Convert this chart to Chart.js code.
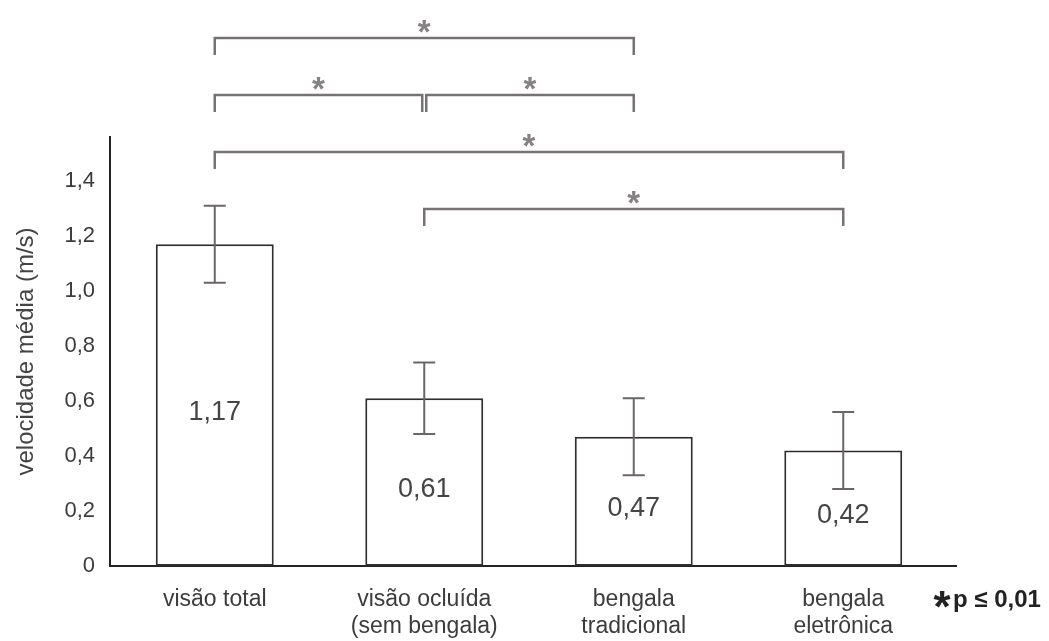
<!DOCTYPE html>
<html><head><meta charset="utf-8">
<script src="https://cdn.jsdelivr.net/npm/chart.js@4"></script>
<style>html,body{margin:0;padding:0;background:#fff}</style>
</head><body>
<canvas id="c" width="1049" height="641"></canvas>
<script>
const categories = [['visão total'], ['visão ocluída', '(sem bengala)'], ['bengala', 'tradicional'], ['bengala', 'eletrônica']];
const meanSpeed = [1.17, 0.61, 0.47, 0.42];
const sdSpeed = [0.14, 0.13, 0.14, 0.14];
const valueLabels = ['1,17', '0,61', '0,47', '0,42'];
const yTickValues = [0, 0.2, 0.4, 0.6, 0.8, 1.0, 1.2, 1.4];
const yTickLabels = ['0', '0,2', '0,4', '0,6', '0,8', '1,0', '1,2', '1,4'];
const comparisons = [[0, 2], [0, 1], [1, 2], [0, 3], [1, 3]];
const comparisonRows = [0, 1, 1, 2, 3];
const yTitle = 'velocidade média (m/s)';
const significanceNote = 'p ≤ 0,01';

const FONT = "'Liberation Sans', Arial, sans-serif";

const annotate = {
  id: 'annotate',
  afterDatasetsDraw(chart) {
    const ctx = chart.ctx;
    const ys = chart.scales.y;
    const meta = chart.getDatasetMeta(0);
    const ca = chart.chartArea;
    ctx.save();
    // extend x axis line slightly past the plot area
    ctx.strokeStyle = '#222';
    ctx.lineWidth = 2;
    ctx.beginPath();
    ctx.moveTo(ca.right - 1, ca.bottom); ctx.lineTo(ca.right + 9, ca.bottom);
    ctx.stroke();
    // error bars
    ctx.strokeStyle = '#6b6666';
    ctx.lineWidth = 2;
    meta.data.forEach((bar, i) => {
      const x = bar.x;
      const yt = ys.getPixelForValue(meanSpeed[i] + sdSpeed[i]);
      const yb = ys.getPixelForValue(meanSpeed[i] - sdSpeed[i]);
      ctx.beginPath();
      ctx.moveTo(x, yt); ctx.lineTo(x, yb);
      ctx.moveTo(x - 11, yt); ctx.lineTo(x + 11, yt);
      ctx.moveTo(x - 11, yb); ctx.lineTo(x + 11, yb);
      ctx.stroke();
    });
    // value labels inside bars
    ctx.fillStyle = '#454545';
    ctx.font = '27px ' + FONT;
    ctx.textAlign = 'center';
    ctx.textBaseline = 'middle';
    meta.data.forEach((bar, i) => {
      ctx.fillText(valueLabels[i], bar.x, (bar.y + bar.base) / 2 + 7);
    });
    // significance brackets
    const topY = ca.top - 99, rowGap = 57, drop = 17;
    ctx.strokeStyle = '#777272';
    ctx.lineWidth = 2.5;
    comparisons.forEach((pair, k) => {
      const r = comparisonRows[k];
      const y = topY + r * rowGap;
      let x1 = meta.data[pair[0]].x, x2 = meta.data[pair[1]].x;
      comparisons.forEach((p2, k2) => {
        if (k2 !== k && comparisonRows[k2] === r) {
          if (p2[1] === pair[0]) x1 += 2;
          if (p2[0] === pair[1]) x2 -= 2;
        }
      });
      ctx.beginPath();
      ctx.moveTo(x1, y + drop); ctx.lineTo(x1, y); ctx.lineTo(x2, y); ctx.lineTo(x2, y + drop);
      ctx.stroke();
      ctx.fillStyle = '#878282';
      ctx.font = 'bold 33px ' + FONT;
      ctx.textAlign = 'center';
      ctx.textBaseline = 'alphabetic';
      ctx.fillText('*', (x1 + x2) / 2, y + 5);
    });
    // significance note
    const noteY = ca.bottom + 34;
    ctx.fillStyle = '#222';
    ctx.textAlign = 'center';
    ctx.textBaseline = 'alphabetic';
    ctx.font = 'bold 44px ' + FONT;
    ctx.fillText('*', chart.width - 107, noteY + 22);
    ctx.font = 'bold 24px ' + FONT;
    ctx.textAlign = 'left';
    ctx.textBaseline = 'middle';
    ctx.fillText(significanceNote, chart.width - 96, noteY);
    ctx.restore();
  }
};

new Chart(document.getElementById('c'), {
  type: 'bar',
  data: {
    labels: categories,
    datasets: [{
      data: meanSpeed,
      backgroundColor: '#ffffff',
      borderColor: '#2e2e2e',
      borderWidth: 2,
      borderSkipped: false,
      barPercentage: 0.563,
      categoryPercentage: 1
    }]
  },
  options: {
    responsive: false,
    animation: false,
    devicePixelRatio: 1,
    layout: { padding: { top: 137, right: 101, left: 0, bottom: 0 } },
    plugins: { legend: { display: false }, tooltip: { enabled: false } },
    scales: {
      x: {
        grid: { display: false, drawTicks: false },
        border: { display: true, color: '#222', width: 2 },
        ticks: { color: '#3c3c3c', font: { family: FONT, size: 23, lineHeight: 1.17 }, padding: 20, maxRotation: 0, autoSkip: false },
        afterFit(s) { s.height = 75; }
      },
      y: {
        min: 0, max: 1.56,
        grid: { display: false, drawTicks: false },
        border: { display: true, color: '#222', width: 2 },
        afterBuildTicks(s) { s.ticks = yTickValues.map(v => ({ value: v })); },
        ticks: {
          color: '#3c3c3c', font: { family: FONT, size: 22 }, padding: 15,
          callback(v, i) { return yTickLabels[i]; }
        },
        title: { display: true, text: yTitle, color: '#444', font: { family: FONT, size: 24 }, padding: { top: 12, bottom: 0 } },
        afterFit(s) { s.width = 110; }
      }
    }
  },
  plugins: [annotate]
});
</script>
</body></html>
